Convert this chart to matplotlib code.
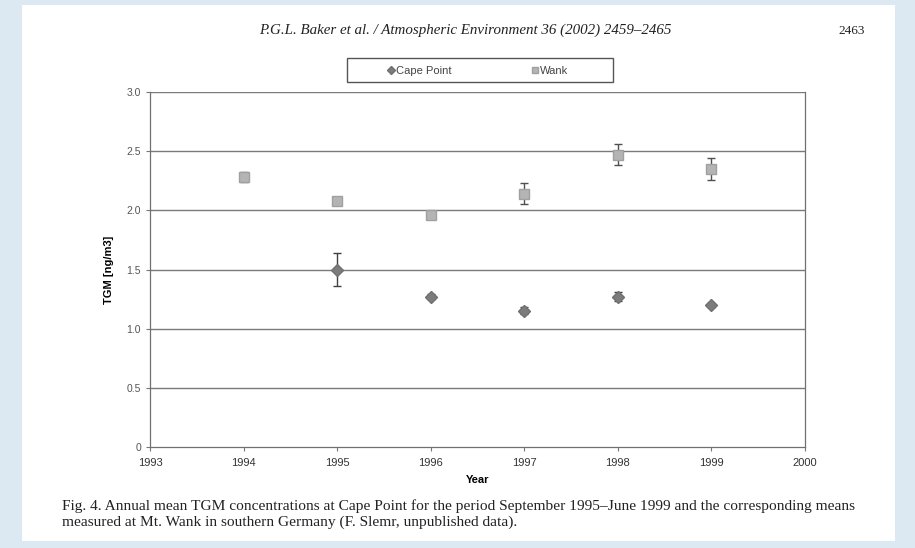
import numpy as np
import matplotlib.pyplot as plt
from matplotlib.patches import Rectangle
from matplotlib.lines import Line2D

# annual mean TGM (ng/m3)
cape_years = [1995, 1996, 1997, 1998, 1999]
cape_tgm = [1.50, 1.27, 1.15, 1.27, 1.20]
cape_err = [0.14, 0.02, 0.03, 0.04, 0.02]

wank_years = [1994, 1995, 1996, 1997, 1998, 1999]
wank_tgm = [2.28, 2.08, 1.96, 2.14, 2.47, 2.35]
wank_err = [0.04, 0.02, 0.03, 0.09, 0.09, 0.09]

xticks = [1993, 1994, 1995, 1996, 1997, 1998, 1999, 2000]
yticks = [0, 0.5, 1.0, 1.5, 2.0, 2.5, 3.0]
ytick_labels = ['0', '0.5', '1.0', '1.5', '2.0', '2.5', '3.0']

header = 'P.G.L. Baker et al. / Atmospheric Environment 36 (2002) 2459\u20132465'
page_no = '2463'
caption = ('Fig. 4. Annual mean TGM concentrations at Cape Point for the period September 1995\u2013June 1999 and the corresponding means\n'
           'measured at Mt. Wank in southern Germany (F. Slemr, unpublished data).')

W, H = 915, 548
fig = plt.figure(figsize=(W/100, H/100), dpi=100)
fig.patch.set_facecolor('#dce8f2')
# white page of the scan
page = Rectangle((22/W, 0.012), 873/W, 0.978, transform=fig.transFigure,
                 facecolor='white', edgecolor='none', zorder=-10)
fig.add_artist(page)

ax = fig.add_axes([150/W, 1-447/H, 655/W, 355/H])
ax.set_facecolor('white')

for y in yticks[1:]:
    ax.axhline(y, color='#7a7a7a', lw=1.0, zorder=1)

ax.errorbar(wank_years, wank_tgm, yerr=wank_err, fmt='s', ms=7, mfc='#b4b4b4', mec='#a0a0a0',
            ecolor='#505050', elinewidth=1.0, capsize=3, zorder=3)
ax.errorbar(cape_years, cape_tgm, yerr=cape_err, fmt='D', ms=6, mfc='#7c7c7c', mec='#707070',
            ecolor='#404040', elinewidth=1.0, capsize=3, zorder=4)

ax.set_xlim(1993, 2000)
ax.set_ylim(0, 3.0)
ax.set_xticks(xticks)
ax.set_xticklabels([str(x) for x in xticks], fontsize=8, color='#333333', fontfamily='Liberation Sans')
ax.set_yticks(yticks)
ax.set_yticklabels(ytick_labels, fontsize=7.5, color='#555555', fontfamily='Liberation Sans')
ax.tick_params(axis='both', direction='out', length=3, width=0.8, color='#777777')
ax.tick_params(axis='x', pad=5)
for s in ['left', 'bottom', 'right']:
    ax.spines[s].set_color('#707070')
    ax.spines[s].set_linewidth(0.9)
ax.spines['top'].set_visible(False)

ax.set_xlabel('Year', fontsize=8, fontweight='bold', fontfamily='Liberation Sans', labelpad=5)
ax.set_ylabel('TGM [ng/m3]', fontsize=8, fontweight='bold', fontfamily='Liberation Sans', labelpad=9)

# legend: box drawn separately to match the wide scanned frame
fig.add_artist(Rectangle((347/W, 1-82/H), 266/W, 24/H, transform=fig.transFigure,
                         facecolor='white', edgecolor='#555555', lw=1.0, zorder=5))
handles = [Line2D([], [], marker='D', ls='none', ms=4, mfc='#7c7c7c', mec='#707070'),
           Line2D([], [], marker='s', ls='none', ms=4, mfc='#b4b4b4', mec='#a0a0a0')]
leg = fig.legend(handles, ['Cape Point', 'Wank'], loc='center', bbox_to_anchor=(477/W, 1-71/H),
                 ncol=2, frameon=False, handletextpad=0.05, columnspacing=7.1,
                 handlelength=0.8, borderaxespad=0,
                 prop={'family': 'Liberation Sans', 'size': 8})
leg.set_zorder(6)
for t in leg.get_texts():
    t.set_color('#444444')

fig.text(465/W, 1-30/H, header, ha='center', va='center', fontsize=10.8, style='italic',
         fontfamily='Liberation Serif', color='#222222')
fig.text(852/W, 1-31/H, page_no, ha='center', va='center', fontsize=9.5,
         fontfamily='Liberation Serif', color='#222222')
fig.text(62/W, 1-514/H, caption, ha='left', va='center', fontsize=11.1,
         fontfamily='Liberation Serif', color='#222222', linespacing=1.3)

plt.savefig('out.png', dpi=100, facecolor=fig.get_facecolor())
